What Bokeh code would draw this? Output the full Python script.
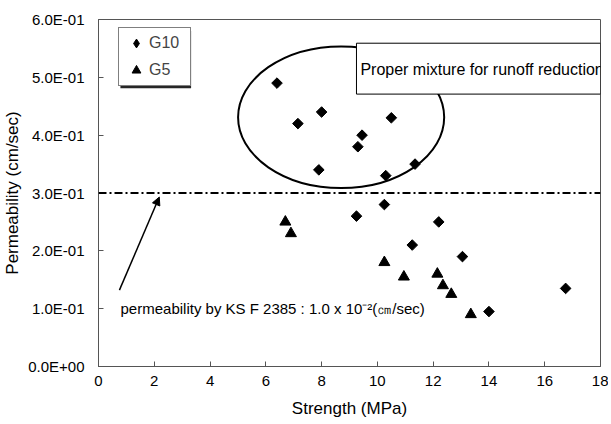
import math
import numpy as np
from bokeh.plotting import figure
from bokeh.models import (Range1d, FixedTicker, Span, Arrow, NormalHead, Label,
                          BoxAnnotation, Legend, LegendItem)
from bokeh.embed import file_html
from bokeh.resources import INLINE

# ---- data ----
g10_strength = [6.4, 7.15, 7.9, 8.0, 9.25, 9.3, 9.45, 10.25, 10.3, 10.5, 11.25, 11.35, 12.2, 13.05, 14.0, 16.75]
g10_perm = [0.49, 0.42, 0.34, 0.44, 0.26, 0.38, 0.40, 0.28, 0.33, 0.43, 0.21, 0.35, 0.25, 0.19, 0.095, 0.135]
g5_strength = [6.7, 6.9, 10.25, 10.95, 12.15, 12.35, 12.65, 13.35]
g5_perm = [0.25, 0.23, 0.18, 0.155, 0.16, 0.14, 0.125, 0.09]

x_ticks = [0, 2, 4, 6, 8, 10, 12, 14, 16, 18]
y_ticks = [0.0, 0.1, 0.2, 0.3, 0.4, 0.5, 0.6]
y_tick_labels = ["0.0E+00", "1.0E-01", "2.0E-01", "3.0E-01", "4.0E-01", "5.0E-01", "6.0E-01"]
criterion = 0.3

FONT = "Liberation Sans"

p = figure(width=608, height=422, output_backend="svg", toolbar_location=None,
           x_range=Range1d(0, 18), y_range=Range1d(0, 0.6),
           min_border_left=96, min_border_right=8, min_border_top=19, min_border_bottom=56)
p.xgrid.visible = False
p.ygrid.visible = False
p.outline_line_color = "#555555"
p.outline_line_width = 1
p.background_fill_color = "white"
p.border_fill_color = "white"

for ax in (p.xaxis[0], p.yaxis[0]):
    ax.axis_line_color = "#555555"
    ax.major_tick_line_color = "#555555"
    ax.major_tick_in = 5
    ax.major_tick_out = 0
    ax.minor_tick_line_color = None
    ax.major_label_text_font = FONT
    ax.major_label_text_font_size = "15px"
    ax.major_label_text_color = "black"
    ax.axis_label_text_font = FONT
    ax.axis_label_text_font_size = "17px"
    ax.axis_label_text_font_style = "normal"
    ax.axis_label_text_color = "black"

p.xaxis.ticker = FixedTicker(ticks=x_ticks)
p.yaxis.ticker = FixedTicker(ticks=y_ticks)
p.yaxis.major_label_overrides = {t: l for t, l in zip(y_ticks, y_tick_labels)}
p.xaxis.axis_label = "Strength (MPa)"
p.yaxis.axis_label = "Permeability (cm/sec)"
p.xaxis.major_label_standoff = 9
p.yaxis.major_label_standoff = 14
p.xaxis.axis_label_standoff = 10
p.yaxis.axis_label_standoff = 3

# ellipse marking the proper mixtures
p.ellipse(x=8.70, y=0.431, width=7.39, height=0.245, fill_color=None,
          line_color="black", line_width=2)

# criterion line
p.add_layout(Span(location=criterion, dimension="width", line_color="black",
                  line_width=2, line_dash="8 3 2 3"))

r10 = p.scatter(g10_strength, g10_perm, marker="square", angle=math.pi / 4, size=7.5,
                fill_color="black", line_color="black")
r5 = p.scatter(g5_strength, g5_perm, marker="triangle", size=11,
               fill_color="black", line_color="black")

# legend keys (no visible points; only used so the legend shows diamond / triangle)
k10 = p.scatter(x=np.array([np.nan]), y=np.array([np.nan]), marker="diamond",
                fill_color="black", line_color="black")
k5 = p.scatter(x=np.array([np.nan]), y=np.array([np.nan]), marker="triangle",
               fill_color="black", line_color="black")

# text box
p.add_layout(BoxAnnotation(left=9.25, right=18, top=0.559, bottom=0.471,
                           fill_color="white", fill_alpha=1, line_color="black",
                           line_width=1, line_alpha=1))
p.add_layout(Label(x=9.39, y=0.513, text="Proper mixture for runoff reduction",
                   text_font=FONT, text_font_size="16px", text_baseline="middle",
                   text_color="black"))

# arrow + note
p.add_layout(Arrow(end=NormalHead(size=8, fill_color="black", line_color="black"),
                   x_start=0.75, y_start=0.132, x_end=2.18, y_end=0.293,
                   line_color="black", line_width=1.5))
p.add_layout(Label(x=0.79, y=0.100,
                   text="permeability by KS F 2385 : 1.0 x 10\u207b\u00b2(\u339d/sec)",
                   text_font=FONT, text_font_size="15px", text_baseline="middle",
                   text_color="black"))

# legend shadow + legend
p.add_layout(BoxAnnotation(left=0.786, right=3.32, top=0.580, bottom=0.481,
                           fill_color="black", fill_alpha=0.85, line_color=None))
legend = Legend(items=[LegendItem(label="G10", renderers=[k10]),
                       LegendItem(label="G5", renderers=[k5])],
                location=(20, 280), padding=4, spacing=5, margin=0,
                label_height=22, glyph_height=22, glyph_width=26, label_standoff=0,
                label_width=37, label_text_font=FONT, label_text_font_size="16px",
                border_line_color="black", border_line_width=1,
                background_fill_color="white", background_fill_alpha=1)
p.add_layout(legend)

open("out.html", "w").write(file_html(p, INLINE))
